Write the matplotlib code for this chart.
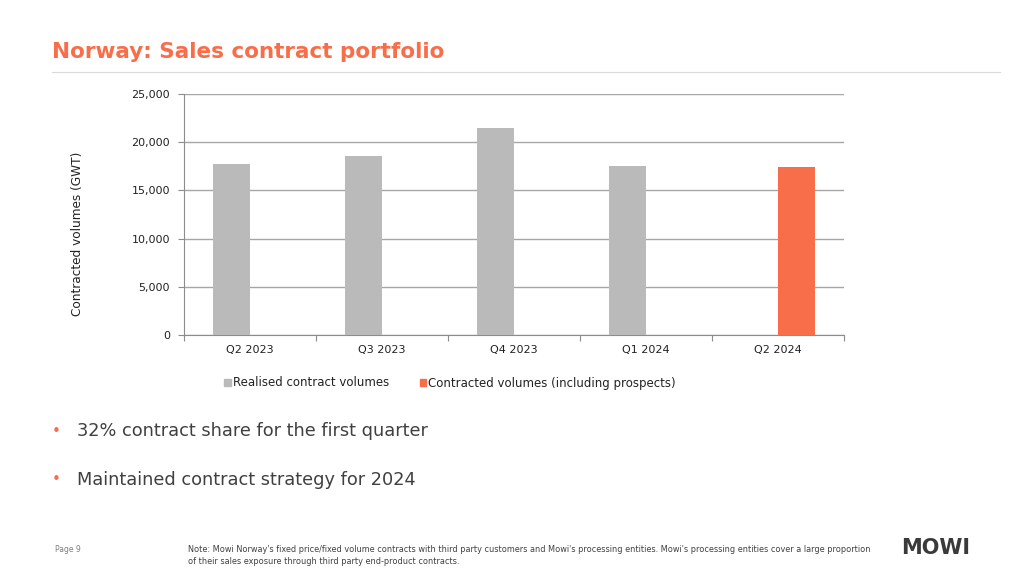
import matplotlib
matplotlib.use("Agg")
import matplotlib.pyplot as plt
import numpy as np
from matplotlib.lines import Line2D
from matplotlib.patches import Patch

categories = ["Q2 2023", "Q3 2023", "Q4 2023", "Q1 2024", "Q2 2024"]
realised = [17700, 18600, 21500, 17500, 0]
contracted = [0, 0, 0, 0, 17400]
yticks = [0, 5000, 10000, 15000, 20000, 25000]
series_names = ["Realised contract volumes", "Contracted volumes (including prospects)"]

ORANGE = "#F96E4A"
GRAY = "#BABABA"
TXT = "#404040"
FONT = ["DejaVu Sans"]
plt.rcParams["font.family"] = FONT

W, H = 1024, 576
fig = plt.figure(figsize=(W / 100, H / 100), dpi=100)

ax = fig.add_axes([184 / W, 1 - 335 / H, (844 - 184) / W, (335 - 94) / H])
x = np.arange(len(categories))
bw = 0.28
ax.bar(x - bw / 2, realised, width=bw, color=GRAY, zorder=3)
ax.bar(x + bw / 2, contracted, width=bw, color=ORANGE, zorder=3)
ax.set_xlim(-0.5, len(categories) - 0.5)
ax.set_ylim(0, 25000)
ax.set_yticks(yticks)
ax.set_yticklabels([f"{v:,}" for v in yticks], fontsize=8, color="#222222")
ax.set_xticks(x)
ax.set_xticklabels(categories, fontsize=8, color="#222222")
ax.tick_params(axis="x", length=0, pad=7)
ax.tick_params(axis="y", length=4, color="#8C8C8C", width=0.8, pad=6)
ax.set_xticks(np.arange(-0.5, len(categories)), minor=True)
ax.tick_params(axis="x", which="minor", length=4, color="#8C8C8C", width=0.8)
ax.grid(axis="y", color="#A6A6A6", linewidth=1.0, zorder=0)
for s in ["top", "right"]:
    ax.spines[s].set_visible(False)
ax.spines["left"].set_color("#8C8C8C")
ax.spines["bottom"].set_color("#8C8C8C")
ax.spines["left"].set_linewidth(0.8)
ax.spines["bottom"].set_linewidth(0.8)
ax.set_ylabel("Contracted volumes (GWT)", fontsize=8.7, color="#222222", labelpad=0)
ax.yaxis.set_label_coords(-100 / 660, 101 / 241)

handles = [Patch(color=GRAY), Patch(color=ORANGE)]
fig.legend(handles, series_names, loc="center", bbox_to_anchor=(450 / W, 1 - 383 / H),
           ncol=2, frameon=False, fontsize=8.5, handlelength=0.55, handleheight=0.55,
           handletextpad=0.15, columnspacing=2.6, labelcolor="#222222")

# Title and rule
fig.text(52 / W, 1 - 52 / H, "Norway: Sales contract portfolio", fontsize=15.5,
         fontweight="bold", color=ORANGE, va="center", ha="left")
fig.add_artist(Line2D([52 / W, 1000 / W], [1 - 72 / H, 1 - 72 / H], color="#D9D9D9", linewidth=0.8))

# Bullets
for yy, t in [(431, "32% contract share for the first quarter"),
              (480, "Maintained contract strategy for 2024")]:
    fig.text(52 / W, 1 - yy / H, "•", fontsize=11, color=ORANGE, va="center", ha="left")
    fig.text(77 / W, 1 - yy / H, t, fontsize=12.8, color=TXT, va="center", ha="left")

# Footer
fig.text(55 / W, 1 - 549 / H, "Page 9", fontsize=5.5, color="#7F7F7F", va="center", ha="left")
fig.text(188 / W, 1 - 550 / H,
         "Note: Mowi Norway's fixed price/fixed volume contracts with third party customers and Mowi's processing entities. Mowi's processing entities cover a large proportion",
         fontsize=5.85, color="#404040", va="center", ha="left")
fig.text(188 / W, 1 - 561 / H, "of their sales exposure through third party end-product contracts.",
         fontsize=5.85, color="#404040", va="center", ha="left")
fig.text(936 / W, 1 - 548 / H, "MOWI", fontsize=15, fontweight="heavy", color="#3A3A3A",
         va="center", ha="center")

fig.savefig("out.png", dpi=100)
